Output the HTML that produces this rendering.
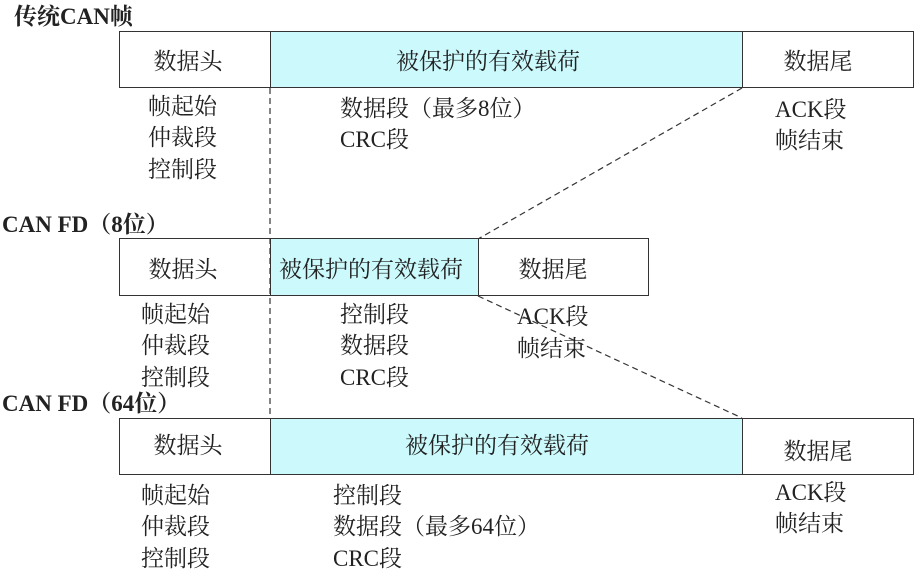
<!DOCTYPE html>
<html><head><meta charset="utf-8"><style>
html,body{margin:0;padding:0;background:#fff;}
body{width:914px;height:575px;position:relative;overflow:hidden;font-family:"Liberation Serif","Noto Serif CJK SC",serif;color:#222;}
.t{position:absolute;font-size:23px;line-height:24px;white-space:nowrap;}
.c{transform:translateX(-50%);}
.b{font-weight:bold;font-size:23px;}
.bx{position:absolute;box-sizing:border-box;border:1.5px solid #333;}
.cy{background:#ccfafc;}
</style></head><body>
<svg style="position:absolute;left:0;top:0" width="914" height="575">
<g stroke="#333" stroke-width="1.2" stroke-dasharray="6,4" fill="none">
<line x1="270" y1="88" x2="270" y2="418"/>
<line x1="742" y1="88" x2="478" y2="239"/>
<line x1="478" y1="296" x2="742" y2="418"/>
</g></svg>
<div class="bx" style="left:119px;top:31px;width:152px;height:57px"></div>
<div class="bx cy" style="left:270px;top:31px;width:473px;height:57px"></div>
<div class="bx" style="left:742px;top:31px;width:172px;height:57px"></div>
<div class="bx" style="left:119px;top:238px;width:152px;height:58px"></div>
<div class="bx cy" style="left:270px;top:238px;width:209px;height:58px"></div>
<div class="bx" style="left:478px;top:238px;width:171px;height:58px"></div>
<div class="bx" style="left:119px;top:418px;width:152px;height:57px"></div>
<div class="bx cy" style="left:270px;top:418px;width:473px;height:57px"></div>
<div class="bx" style="left:742px;top:418px;width:172px;height:57px"></div>

<div class="t b" style="left:14px;top:5px">传统CAN帧</div>
<div class="t b" style="left:2px;top:213px">CAN FD（8位）</div>
<div class="t b" style="left:2px;top:392px">CAN FD（64位）</div>

<div class="t c" style="left:188px;top:50px">数据头</div>
<div class="t c" style="left:488px;top:50px">被保护的有效载荷</div>
<div class="t c" style="left:818px;top:50px">数据尾</div>
<div class="t" style="left:148px;top:95px">帧起始</div>
<div class="t" style="left:148px;top:126px">仲裁段</div>
<div class="t" style="left:148px;top:158px">控制段</div>
<div class="t" style="left:340px;top:97px">数据段（最多8位）</div>
<div class="t" style="left:340px;top:128px">CRC段</div>
<div class="t" style="left:775px;top:98px">ACK段</div>
<div class="t" style="left:775px;top:129px">帧结束</div>

<div class="t c" style="left:183px;top:258px">数据头</div>
<div class="t" style="left:279px;top:258px">被保护的有效载荷</div>
<div class="t c" style="left:553px;top:258px">数据尾</div>
<div class="t" style="left:141px;top:303px">帧起始</div>
<div class="t" style="left:141px;top:334px">仲裁段</div>
<div class="t" style="left:141px;top:366px">控制段</div>
<div class="t" style="left:340px;top:303px">控制段</div>
<div class="t" style="left:340px;top:334px">数据段</div>
<div class="t" style="left:340px;top:366px">CRC段</div>
<div class="t" style="left:517px;top:305px">ACK段</div>
<div class="t" style="left:517px;top:337px">帧结束</div>

<div class="t c" style="left:188px;top:434px">数据头</div>
<div class="t c" style="left:497px;top:434px">被保护的有效载荷</div>
<div class="t c" style="left:818px;top:440px">数据尾</div>
<div class="t" style="left:141px;top:484px">帧起始</div>
<div class="t" style="left:141px;top:515px">仲裁段</div>
<div class="t" style="left:141px;top:547px">控制段</div>
<div class="t" style="left:333px;top:484px">控制段</div>
<div class="t" style="left:333px;top:515px">数据段（最多64位）</div>
<div class="t" style="left:333px;top:547px">CRC段</div>
<div class="t" style="left:775px;top:481px">ACK段</div>
<div class="t" style="left:775px;top:512px">帧结束</div>
</body></html>
